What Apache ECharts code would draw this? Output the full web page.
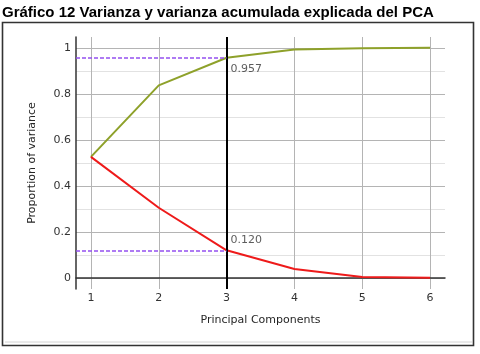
<!DOCTYPE html>
<html>
<head>
<meta charset="utf-8">
<script src="https://cdn.jsdelivr.net/npm/echarts@6/dist/echarts.min.js"></script>
<style>
  html, body { margin: 0; padding: 0; background: #fff; }
  #chart { width: 480px; height: 354px; }
</style>
</head>
<body>
<div id="chart"></div>
<script>
// datos
const components = [1, 2, 3, 4, 5, 6];
const explained = [0.526, 0.305, 0.120, 0.039, 0.004, 0.001];
const cumulative = [0.526, 0.837, 0.957, 0.993, 0.998, 1.0];
const xTicks = [1, 2, 3, 4, 5, 6];
const yTicks = [0, 0.2, 0.4, 0.6, 0.8, 1];
const yMinorTicks = [0.1, 0.3, 0.5, 0.7, 0.9];
const cutoff = 3;
const cutoffValues = [0.957, 0.120];

const xMin = 0.78, xMax = 6.22;
const yMin = -0.048, yMax = 1.047;
const font = "DejaVu Sans";

const chart = echarts.init(document.getElementById("chart"));

let option = {
  animation: false,
  backgroundColor: "#fff",
  graphic: [
    {
      type: "text",
      left: 2,
      top: 5,
      style: {
        text: "Gráfico 12 Varianza y varianza acumulada explicada del PCA",
        font: "bold 15px 'Liberation Sans', Arial, sans-serif",
        fill: "#000"
      }
    },
    {
      type: "rect",
      shape: { x: 2.5, y: 22.5, width: 471, height: 323 },
      style: { fill: "none", stroke: "#333", lineWidth: 1.6 },
      silent: true
    },
    {
      type: "line",
      shape: { x1: 5, y1: 342, x2: 472, y2: 342 },
      style: { stroke: "#d4d4d4", lineWidth: 1 },
      silent: true
    }
  ],
  grid: { left: 76, right: 35, top: 37, bottom: 65 },
  xAxis: {
    type: "value",
    min: xMin,
    max: xMax,
    name: "Principal Components",
    nameLocation: "middle",
    nameGap: 26,
    nameTextStyle: { fontFamily: font, fontSize: 11, color: "#262626" },
    axisLine: { show: true, lineStyle: { color: "#333", width: 1.5 } },
    axisTick: { show: false, customValues: xTicks },
    axisLabel: {
      customValues: xTicks,
      fontFamily: font, fontSize: 11, color: "#333", margin: 4,
      formatter: v => String(v)
    },
    splitLine: { show: true, lineStyle: { color: "#b4b4b4", width: 1 } }
  },
  yAxis: [
    {
      type: "value",
      min: yMin,
      max: yMax,
      name: "Proportion of variance",
      nameLocation: "middle",
      nameGap: 38,
      nameTextStyle: { fontFamily: font, fontSize: 11, color: "#262626" },
      axisLine: { show: true, lineStyle: { color: "#333", width: 1.5 } },
      axisTick: { show: false, customValues: yTicks },
      axisLabel: {
        customValues: yTicks,
        fontFamily: font, fontSize: 11, color: "#333", margin: 5,
        formatter: v => String(v)
      },
      splitLine: { show: true, lineStyle: { color: "#b4b4b4", width: 1 } }
    },
    {
      type: "value",
      min: yMin,
      max: yMax,
      position: "left",
      axisLine: { show: false },
      axisTick: { show: false, customValues: yMinorTicks },
      axisLabel: { show: false, customValues: yMinorTicks },
      splitLine: { show: true, lineStyle: { color: "#e2e2e2", width: 1 } }
    }
  ],
  series: [
    {
      name: "cumulative",
      type: "line",
      data: components.map((c, i) => [c, cumulative[i]]),
      showSymbol: false,
      lineStyle: { color: "#8ea12a", width: 2 },
      itemStyle: { color: "#8ea12a" },
      z: 3
    },
    {
      name: "explained",
      type: "line",
      data: components.map((c, i) => [c, explained[i]]),
      showSymbol: false,
      lineStyle: { color: "#ee1a1a", width: 2 },
      itemStyle: { color: "#ee1a1a" },
      z: 3,
      markLine: {
        silent: true,
        symbol: "none",
        label: { show: false },
        lineStyle: { color: "#000", width: 2, type: "solid" },
        data: [{ xAxis: cutoff }]
      }
    },
    {
      name: "labels",
      type: "scatter",
      symbolSize: 0,
      silent: true,
      z: 4,
      itemStyle: { color: "#9955ee" },
      markLine: {
        silent: true,
        symbol: "none",
        label: { show: false },
        lineStyle: { color: "#9450f0", width: 1.5, type: [4, 2], opacity: 1 },
        data: cutoffValues.map(v => [
          { coord: [xMin, v] },
          { coord: [cutoff, v] }
        ])
      },
      data: cutoffValues.map((v, i) => ({
        value: [cutoff, v],
        label: {
          show: true,
          position: "right",
          distance: 4,
          offset: i === 0 ? [0, 11] : [0, -10],
          formatter: v.toFixed(3),
          fontFamily: font,
          fontSize: 11,
          color: "#333"
        }
      }))
    }
  ]
};

chart.setOption(option);
</script>
</body>
</html>
